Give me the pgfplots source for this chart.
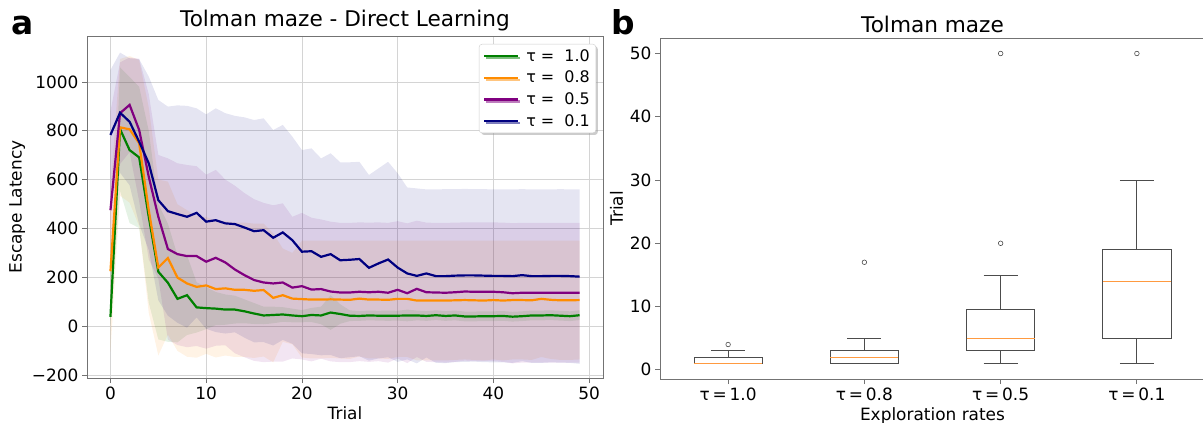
\documentclass[border=0pt]{standalone}
\usepackage{pgfplots}
\pgfplotsset{compat=1.18}
\usepackage{pgfplotstable}
\usepackage{fontspec}
\setmainfont{DejaVu Sans}
\usepgfplotslibrary{statistics,fillbetween}
\usetikzlibrary{shadows}
\definecolor{mgreen}{HTML}{008000}
\definecolor{morange}{HTML}{FF8C00}
\definecolor{mpurple}{HTML}{800080}
\definecolor{mnavy}{HTML}{000080}
\definecolor{medorange}{HTML}{FF9A40}

\pgfplotstableread{
t m lo hi
0 38 8 68
1 807 554 1060
2 721 422 1020
3 691 402 980
4 448 96 800
5 223 -54 500
6 178 -64 420
7 112 -66 290
8 127 -36 290
9 77 -26 180
10 74 -12 160
11 72 4 140
12 68 6 130
13 68 11 125
14 61 12 110
15 52 9 95
16 44 8 80
17 46 12 80
18 48 18 78
19 44 16 72
20 41 16 66
21 46 17 75
22 44 8 80
23 56 -15 127
24 50 10 90
25 43 21 65
26 42 22 62
27 44 24 64
28 43 23 63
29 43 22 64
30 43 23 63
31 44 20 68
32 44 24 64
33 42 22 62
34 45 25 65
35 42 22 62
36 44 24 64
37 40 20 60
38 40 20 60
39 41 21 61
40 41 21 61
41 42 22 62
42 39 19 59
43 41 21 61
44 44 24 64
45 44 24 64
46 45 25 65
47 43 23 63
48 41 21 61
49 45 25 65
}\greendata

\pgfplotstableread{
t m lo hi
0 225 -105 555
1 814 534 1094
2 806 506 1106
3 749 409 1089
4 475 55 895
5 240 -120 600
6 279 -34 592
7 199 -101 499
8 175 -125 475
9 161 -129 451
10 167 -113 447
11 152 -128 432
12 155 -120 430
13 149 -126 424
14 149 -126 424
15 145 -130 420
16 148 -124 420
17 116 -148 380
18 127 -64 318
19 113 -74 300
20 111 -128 350
21 109 -132 350
22 109 -132 350
23 110 -130 350
24 109 -132 350
25 108 -134 350
26 113 -124 350
27 109 -132 350
28 109 -132 350
29 108 -134 350
30 112 -126 350
31 112 -126 350
32 105 -140 350
33 105 -140 350
34 105 -140 350
35 105 -140 350
36 106 -138 350
37 107 -136 350
38 106 -138 350
39 105 -140 350
40 107 -136 350
41 105 -140 350
42 107 -136 350
43 107 -136 350
44 106 -138 350
45 112 -126 350
46 108 -134 350
47 106 -138 350
48 106 -138 350
49 107 -136 350
}\orangedata

\pgfplotstableread{
t m lo hi
0 475 70 880
1 872 664 1080
2 906 712 1100
3 803 511 1095
4 612 274 950
5 448 195 701
6 316 -55 687
7 295 -77 667
8 287 -86 660
9 287 -81 655
10 264 -92 620
11 280 -80 640
12 261 -78 600
13 232 -111 575
14 209 -127 545
15 189 -142 520
16 179 -147 505
17 175 -145 495
18 179 -145 503
19 158 -132 448
20 164 -136 464
21 150 -144 444
22 152 -133 437
23 142 -144 428
24 138 -147 423
25 138 -147 423
26 141 -143 425
27 139 -146 424
28 141 -143 425
29 137 -149 423
30 149 -132 430
31 135 -151 421
32 153 -126 432
33 139 -146 424
34 138 -147 423
35 137 -149 423
36 139 -146 424
37 142 -141 425
38 141 -143 425
39 141 -143 425
40 141 -143 425
41 139 -146 424
42 135 -152 422
43 137 -149 423
44 137 -149 423
45 137 -149 423
46 137 -149 423
47 137 -149 423
48 137 -149 423
49 137 -149 423
}\purpledata

\pgfplotstableread{
t m lo hi
0 783 517 1049
1 874 628 1120
2 837 577 1097
3 755 417 1093
4 667 312 1022
5 516 106 926
6 471 43 899
7 459 14 904
8 448 -6 902
9 464 36 892
10 428 -11 867
11 434 -24 892
12 421 -30 872
13 418 -25 861
14 404 -47 855
15 389 -66 844
16 393 -65 851
17 362 -79 803
18 384 -56 824
19 352 -72 776
20 305 -111 721
21 307 -114 728
22 284 -119 687
23 295 -118 708
24 270 -131 671
25 272 -127 671
26 275 -123 673
27 239 -141 619
28 257 -132 646
29 273 -127 673
30 240 -146 626
31 216 -136 568
32 206 -152 564
33 216 -128 560
34 205 -150 560
35 205 -151 561
36 207 -147 561
37 208 -146 562
38 208 -145 561
39 207 -147 561
40 206 -148 560
41 206 -148 560
42 205 -150 560
43 209 -143 561
44 205 -150 560
45 205 -150 560
46 206 -148 560
47 206 -149 561
48 205 -150 560
49 203 -154 560
}\navydata

\pgfplotstableread{
x y
0.75 1
1.25 1
}\medA
\pgfplotstableread{
x y
1.75 2
2.25 2
}\medB
\pgfplotstableread{
x y
2.75 5
3.25 5
}\medC
\pgfplotstableread{
x y
3.75 14
4.25 14
}\medD

\pgfplotsset{
  mplstyle/.style={
    scale only axis,
    axis line style={black!55, line width=0.8bp},
    tick style={black!55, line width=0.8bp},
    tick align=outside,
    tick pos=left,
    major tick length=5bp,
    /pgf/number format/assume math mode=true,
    tick label style={font=\fontsize{17}{20}\selectfont},
    label style={font=\fontsize{17}{20}\selectfont},
    title style={font=\fontsize{21.7}{26}\selectfont, yshift=-4bp},
  },
  outl/.style={black!70, line width=0.8bp, mark=o, mark size=2.3bp,
    mark options={draw=black!70, line width=0.6bp}},
}

\begin{document}
\begin{tikzpicture}

\node[anchor=base west, font=\bfseries\fontsize{33}{36}\selectfont, inner sep=0pt] at (11bp,388bp) {a};
\node[anchor=base west, font=\bfseries\fontsize{33}{36}\selectfont, inner sep=0pt] at (611bp,388bp) {b};

\begin{axis}[
  mplstyle,
  at={(87bp,45bp)}, anchor=south west,
  width=516bp, height=342bp,
  xmin=-2.45, xmax=51.45, ymin=-212, ymax=1188,
  xtick={0,10,...,50}, ytick={-200,0,...,1000},
  yticklabels={−200,0,200,400,600,800,1000},
  grid=major, grid style={black!17, line width=0.8bp},
  title={Tolman maze - Direct Learning},
  xlabel={Trial}, ylabel={Escape Latency},
  legend style={at={(1,1)}, anchor=north east, xshift=-7bp, yshift=-8bp,
    draw=black!20, fill=white, rounded corners=3bp,
    font=\fontsize{16}{19}\selectfont, inner xsep=4bp, inner ysep=3bp, row sep=4.5bp,
    drop shadow={shadow xshift=2bp, shadow yshift=-2bp, fill=black!40}},
  legend cell align=left,
  legend image code/.code={\draw[#1] (0bp,0bp) -- (34bp,0bp); \path (39bp,0bp);},
]
% bands
\addplot[name path=gh, draw=none, forget plot] table[x=t,y=hi]{\greendata};
\addplot[name path=gl, draw=none, forget plot] table[x=t,y=lo]{\greendata};
\addplot[fill=mgreen, fill opacity=0.1, draw=none, forget plot] fill between[of=gh and gl];
\addplot[name path=oh, draw=none, forget plot] table[x=t,y=hi]{\orangedata};
\addplot[name path=ol, draw=none, forget plot] table[x=t,y=lo]{\orangedata};
\addplot[fill=morange, fill opacity=0.1, draw=none, forget plot] fill between[of=oh and ol];
\addplot[name path=ph, draw=none, forget plot] table[x=t,y=hi]{\purpledata};
\addplot[name path=pl, draw=none, forget plot] table[x=t,y=lo]{\purpledata};
\addplot[fill=mpurple, fill opacity=0.1, draw=none, forget plot] fill between[of=ph and pl];
\addplot[name path=nh, draw=none, forget plot] table[x=t,y=hi]{\navydata};
\addplot[name path=nl, draw=none, forget plot] table[x=t,y=lo]{\navydata};
\addplot[fill=mnavy, fill opacity=0.1, draw=none, forget plot] fill between[of=nh and nl];
% means
\addplot[mgreen, line width=2.2bp] table[x=t,y=m]{\greendata};
\addlegendentry{τ = \ 1.0}
\addplot[morange, line width=2.2bp] table[x=t,y=m]{\orangedata};
\addlegendentry{τ = \ 0.8}
\addplot[mpurple, line width=2.2bp] table[x=t,y=m]{\purpledata};
\addlegendentry{τ = \ 0.5}
\addplot[mnavy, line width=2.2bp] table[x=t,y=m]{\navydata};
\addlegendentry{τ = \ 0.1}
\end{axis}

\begin{axis}[
  mplstyle,
  at={(660bp,44bp)}, anchor=south west,
  width=545bp, height=341bp,
  xmin=0.5, xmax=4.5, ymin=-1.45, ymax=52.45,
  xtick={1,2,3,4},
  xticklabels={τ\,=\,1.0, τ\,=\,0.8, τ\,=\,0.5, τ\,=\,0.1},
  ytick={0,10,...,50},
  title={Tolman maze},
  xlabel={Exploration rates}, ylabel={Trial},
  boxplot/draw direction=y,
  boxplot/box extend=0.5,
  boxplot/whisker extend=0.25,
  boxplot/every box/.style={draw=black!70, line width=0.8bp},
  boxplot/every whisker/.style={draw=black!70, line width=0.8bp},
  boxplot/every median/.style={draw=medorange, line width=1bp},
]
\addplot[outl,
  boxplot prepared={draw position=1, median=1, lower quartile=1, upper quartile=2, lower whisker=1, upper whisker=3}]
  table[row sep=\\, y index=0]{v\\ 4\\};
\addplot[outl,
  boxplot prepared={draw position=2, median=2, lower quartile=1, upper quartile=3, lower whisker=1, upper whisker=5}]
  table[row sep=\\, y index=0]{v\\ 17\\};
\addplot[outl,
  boxplot prepared={draw position=3, median=5, lower quartile=3, upper quartile=9.5, lower whisker=1, upper whisker=15}]
  table[row sep=\\, y index=0]{v\\ 20\\ 50\\};
\addplot[outl,
  boxplot prepared={draw position=4, median=14, lower quartile=5, upper quartile=19, lower whisker=1, upper whisker=30}]
  table[row sep=\\, y index=0]{v\\ 50\\};
% medians on top
\addplot[medorange, line width=1bp, forget plot] table[x=x,y=y]{\medA};
\addplot[medorange, line width=1bp, forget plot] table[x=x,y=y]{\medB};
\addplot[medorange, line width=1bp, forget plot] table[x=x,y=y]{\medC};
\addplot[medorange, line width=1bp, forget plot] table[x=x,y=y]{\medD};
\end{axis}
\pgfresetboundingbox
\path[use as bounding box] (0,0) rectangle (1203bp,423bp);
\end{tikzpicture}
\end{document}
